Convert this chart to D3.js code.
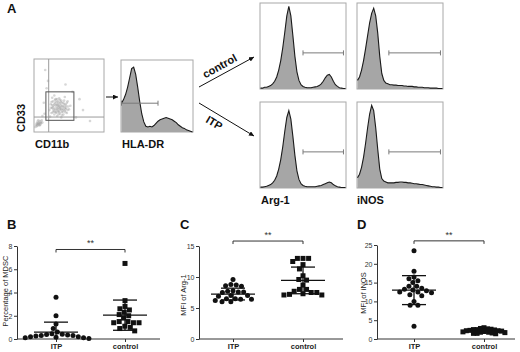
<!DOCTYPE html>
<html><head><meta charset="utf-8">
<script src="https://cdn.jsdelivr.net/npm/d3@7"></script>
<style>body{margin:0;background:#fff}svg{display:block}text{font-family:"Liberation Sans",Arial,sans-serif}</style>
</head><body><svg id="c" width="520" height="352"></svg>
<script>
// ---------------- DATA ----------------
const categories = ["ITP", "control"];

// Panel B: Percentage of MDSC
const mdscITP = [3.6, 2.0, 1.3, 0.9, 0.6, 0.45, 0.4, 0.38, 0.35, 0.3, 0.3, 0.25, 0.2, 0.2, 0.15, 0.1, 0.1, 0.05];
const mdscControl = [6.5, 3.3, 2.8, 2.6, 2.5, 2.3, 2.1, 2.0, 1.8, 1.5, 1.5, 1.4, 1.4, 1.4, 1.1, 1.0, 0.9, 0.7];
const mdscMean = [0.6, 2.05];
const mdscSD = [0.85, 1.3];
const mdscTicks = [0, 2, 4, 6, 8];

// Panel C: MFI of Arg-1
const arg1ITP = [9.6, 8.8, 8.7, 8.6, 8.5, 7.8, 7.7, 7.6, 7.6, 7.5, 7.0, 7.0, 6.9, 6.5, 6.5, 6.4, 6.4, 6.2, 6.0, 6.0];
const arg1Control = [13.0, 13.0, 13.0, 12.5, 12.0, 11.3, 10.2, 9.6, 9.5, 8.7, 8.0, 8.0, 7.7, 7.5, 7.5, 7.3, 7.2, 7.1, 7.1];
const arg1Mean = [7.25, 9.45];
const arg1SD = [0.95, 2.15];
const arg1Ticks = [0, 5, 10, 15];

// Panel D: MFI of iNOS
const inosITP = [23.5, 18.0, 16.5, 16.0, 15.5, 15.0, 14.0, 14.0, 13.5, 13.2, 13.0, 12.8, 12.5, 12.5, 12.3, 11.8, 11.5, 10.0, 9.0, 9.0, 3.4];
const inosControl = [3.0, 2.8, 2.7, 2.6, 2.5, 2.5, 2.4, 2.3, 2.2, 2.2, 2.1, 2.0, 1.9, 1.8, 1.8, 1.7, 1.6, 1.5, 1.5, 1.4];
const inosMean = [13.0, 2.1];
const inosSD = [3.85, 0.45];
const inosTicks = [0, 5, 10, 15, 20, 25];

// Panel A: flow cytometry histograms (relative counts, 0-100 of box height)
const hlaDRHist = [40,45,52,62,75,88,90,80,62,42,25,14,8,7,8,7,9,12,15,17,18,19,20,19,18,17,15,13,10,8,6,5,3,2,1,0];
const arg1HistControl = [1,1,2,2,3,4,6,9,14,22,33,48,66,85,96,85,62,38,20,10,5,3,2,1.5,1.5,1.5,2,2.5,3,4,6,9,13,16,17,14,9,5,3,1.5,1,0.5,0.5];
const inosHistControl = [10,14,22,33,47,62,77,88,94,85,65,38,18,10,7,6,5,5,4.5,4.5,4,4,4,3.5,3.5,3,3,3,2.5,2.5,2,2,2,1.5,1.5,1.5,1,1,1,1,0.5,0.5,0.5];
const arg1HistITP = [1,1,1.5,2,3,4,6,9,14,22,33,48,66,82,90,80,60,38,20,10,5,3,2,1.5,1.5,1.5,1.5,1.5,2,2.5,3,4,5,6,7,6,4,2.5,1.5,1,0.5,0.5,0.5];
const inosHistITP = [12,16,24,36,52,70,86,96,90,70,45,22,11,8,7,6,6,6,6,6.5,6.5,7,7,6.5,6.5,6,6,5.5,5,5,4.5,4,4,3.5,3,2.5,2,1.5,1.5,1,1,0.5,0.5];
// gates: [startBin, endBin, level]
const hlaDRGate = [0, 18, 40];
const arg1Gate = [21, 41, 42];
const inosGate = [15.5, 41, 42];

// CD11b (x) vs CD33 (y) dot plot, percent of axis
const cd11bCd33 = [
 [22,30],[24,38],[25,26],[26,33],[27,42],[28,29],[28,36],[29,24],[30,32],[30,40],[31,45],[31,27],[32,35],[32,30],
 [33,38],[33,22],[34,33],[34,42],[35,28],[35,36],[36,31],[36,46],[37,25],[37,39],[38,34],[38,30],[39,43],[40,27],
 [40,36],[41,32],[42,40],[42,24],[43,35],[44,29],[45,38],[46,33],[47,26],[48,42],[50,31],[26,47],[23,21],[39,20],
 [44,48],[52,36],[29,50],[31,37],[34,29],[36,35],[38,41],[41,28],[33,45],[27,34],[45,31],[43,43],[30,28],[35,24],
 [24,33],[25,41],[27,27],[29,38],[30,44],[32,26],[33,32],[34,37],[35,40],[36,27],[37,33],[38,37],[39,31],[40,40],
 [41,35],[42,30],[43,38],[44,33],[46,36],[47,40],[48,30],[49,35],[32,41],[28,31],[26,37],[37,44],[40,23],[45,27],
 [3,10],[4,12],[5,9],[5,14],[6,11],[7,13],[7,10],[8,15],[9,12],[10,14],[11,16],[4,8],[6,16],[9,10],[12,13],[2,7],[8,9],
 [5,11],[7,12],[10,12],
 [15,25],[18,60],[60,20],[20,70],[55,55],[14,40],[65,45],[45,65],[70,30],[12,22],[80,15],[16,85]
];
const dotGateX = [17, 57];
const dotGateY = [16, 55];
const dotQuadX = 21;
const dotQuadY = 20.5;

// ---------------- DRAW ----------------
const svg = d3.select("#c");
const FONT = '"Liberation Sans",Arial,sans-serif';

svg.append("defs").append("marker").attr("id","ah").attr("viewBox","0 0 6 6")
  .attr("refX",6).attr("refY",3).attr("markerWidth",5).attr("markerHeight",5)
  .attr("markerUnits","userSpaceOnUse").attr("orient","auto")
  .append("path").attr("d","M0,0L6,3L0,6Z").attr("fill","#111");

function label(x, y, t, size, opts={}) {
  const e = svg.append("text").attr("x", x).attr("y", y).text(t)
    .attr("font-size", size).attr("font-weight", opts.bold ? "bold" : "normal")
    .attr("fill", opts.fill || "#111").attr("text-anchor", opts.anchor || "start");
  if (opts.transform) e.attr("transform", opts.transform);
  return e;
}

// Panel letters
label(7, 13, "A", 13, {bold:true});
label(7, 229, "B", 13, {bold:true});
label(180, 229, "C", 13, {bold:true});
label(357, 229, "D", 13, {bold:true});

// ---- dot plot ----
const db = {x0:34, y0:59, x1:104, y1:132};
const dx = d3.scaleLinear().domain([0,100]).range([db.x0, db.x1]);
const dy = d3.scaleLinear().domain([0,100]).range([db.y1, db.y0]);
svg.append("rect").attr("x",db.x0).attr("y",db.y0).attr("width",db.x1-db.x0).attr("height",db.y1-db.y0)
  .attr("fill","#fff").attr("stroke","#a8a8a8").attr("stroke-width",1);
svg.append("g").selectAll("circle").data(cd11bCd33).join("circle")
  .attr("cx", d=>dx(d[0])).attr("cy", d=>dy(d[1])).attr("r", 1.3)
  .attr("fill", "#9a9a9a").attr("opacity", 0.4);
svg.append("line").attr("x1",dx(dotQuadX)).attr("x2",dx(dotQuadX)).attr("y1",db.y0).attr("y2",db.y1).attr("stroke","#9a9a9a");
svg.append("line").attr("x1",db.x0).attr("x2",db.x1).attr("y1",dy(dotQuadY)).attr("y2",dy(dotQuadY)).attr("stroke","#9a9a9a");
svg.append("rect").attr("x",dx(dotGateX[0])).attr("y",dy(dotGateY[1]))
  .attr("width",dx(dotGateX[1])-dx(dotGateX[0])).attr("height",dy(dotGateY[0])-dy(dotGateY[1]))
  .attr("fill","none").attr("stroke","#555").attr("stroke-width",1);
label(35, 148, "CD11b", 11, {bold:true});
label(25, 118, "CD33", 11, {bold:true, anchor:"middle", transform:"rotate(-90,25,118)"});

// ---- histograms ----
function histogram(box, data, gate) {
  const x = d3.scaleLinear().domain([0, data.length-1]).range([box.x0+0.5, box.x1-0.5]);
  const y = d3.scaleLinear().domain([0,100]).range([box.y1, box.y0]);
  svg.append("rect").attr("x",box.x0).attr("y",box.y0).attr("width",box.x1-box.x0).attr("height",box.y1-box.y0)
    .attr("fill","#fff").attr("stroke","#a8a8a8").attr("stroke-width",1);
  svg.append("path").datum(data)
    .attr("d", d3.area().x((d,i)=>x(i)).y0(box.y1).y1(d=>y(d)))
    .attr("fill","#a6a6a6");
  svg.append("path").datum(data)
    .attr("d", d3.line().x((d,i)=>x(i)).y(d=>y(d)))
    .attr("fill","none").attr("stroke","#1a1a1a").attr("stroke-width",1.1);
  const gx0 = x(gate[0]), gx1 = x(gate[1]), gy = y(gate[2]);
  const g = svg.append("g").attr("stroke","#7a7a7a").attr("stroke-width",1);
  g.append("line").attr("x1",gx0).attr("x2",gx1).attr("y1",gy).attr("y2",gy);
  g.append("line").attr("x1",gx0).attr("x2",gx0).attr("y1",gy-2.5).attr("y2",gy+2.5);
  g.append("line").attr("x1",gx1).attr("x2",gx1).attr("y1",gy-2.5).attr("y2",gy+2.5);
}
histogram({x0:121,y0:60,x1:193,y1:132}, hlaDRHist, hlaDRGate);
label(122, 148, "HLA-DR", 11, {bold:true});
histogram({x0:260,y0:3,x1:346,y1:89}, arg1HistControl, arg1Gate);
histogram({x0:357,y0:3,x1:443,y1:89}, inosHistControl, inosGate);
histogram({x0:260,y0:102,x1:346,y1:188}, arg1HistITP, arg1Gate);
histogram({x0:357,y0:102,x1:443,y1:188}, inosHistITP, inosGate);
label(261, 204, "Arg-1", 11, {bold:true});
label(357, 204, "iNOS", 11, {bold:true});

// arrows
svg.append("line").attr("x1",106).attr("y1",97).attr("x2",118).attr("y2",97).attr("stroke","#111").attr("marker-end","url(#ah)");
svg.append("line").attr("x1",199).attr("y1",87).attr("x2",254).attr("y2",57).attr("stroke","#111").attr("marker-end","url(#ah)");
svg.append("line").attr("x1",199).attr("y1",103).attr("x2",254).attr("y2",136).attr("stroke","#111").attr("marker-end","url(#ah)");
svg.append("text").attr("transform","translate(223,72) rotate(-29)").attr("text-anchor","middle").attr("y",-3)
  .attr("font-size",11).attr("font-weight","bold").attr("fill","#111").text("control");
svg.append("text").attr("transform","translate(219,115) rotate(31)").attr("text-anchor","middle").attr("y",13)
  .attr("font-size",11).attr("font-weight","bold").attr("fill","#111").text("ITP");

// ---- scatter dot plots ----
function swarm(vals, y, cx, d) {
  const placed = [];
  vals.slice().sort((a,b)=>b-a).forEach(v => {
    const py = y(v);
    const iv = [];
    placed.forEach(p => {
      const ddy = Math.abs(p.y - py);
      if (ddy < d) { const w = Math.sqrt(d*d - ddy*ddy); iv.push([p.x - w, p.x + w]); }
    });
    const cand = [cx];
    iv.forEach(([a,b]) => cand.push(a,b));
    cand.sort((a,b) => Math.abs(a-cx) - Math.abs(b-cx));
    let px = cx;
    for (const c of cand) {
      if (!iv.some(([a,b]) => c > a + 1e-6 && c < b - 1e-6)) { px = c; break; }
    }
    placed.push({x:px, y:py, v});
  });
  return placed;
}

function scatterPanel(cfg) {
  const y = d3.scaleLinear().domain([0, cfg.max]).range([cfg.yBottom, cfg.yTop]);
  const x = d3.scalePoint().domain(categories).range(cfg.cat);
  const g = svg.append("g");
  const ya = g.append("g").attr("transform",`translate(${cfg.axisX},0)`)
    .call(d3.axisLeft(y).tickValues(cfg.ticks).tickSize(3).tickSizeOuter(0).tickPadding(1.5));
  ya.select(".domain").attr("stroke","#333");
  ya.selectAll(".tick line").attr("stroke","#333");
  ya.selectAll("text").attr("font-size",7).attr("font-family",FONT).attr("fill","#333");
  g.append("line").attr("x1",cfg.axisX).attr("x2",cfg.xEnd).attr("y1",cfg.yBottom).attr("y2",cfg.yBottom).attr("stroke","#333");
  const xa = g.append("g").attr("transform",`translate(0,${cfg.yBottom})`)
    .call(d3.axisBottom(x).tickSize(3).tickSizeOuter(0).tickPadding(2));
  xa.select(".domain").remove();
  xa.selectAll(".tick line").attr("stroke","#333");
  xa.selectAll("text").attr("font-size",7.5).attr("font-weight","bold").attr("font-family",FONT).attr("fill","#222");
  g.append("text").attr("transform",`translate(${cfg.labelX},${cfg.labelY}) rotate(-90)`)
    .attr("text-anchor","middle").attr("font-size",7.5).attr("fill","#222").text(cfg.ylabel);
  const R = 2.5;
  cfg.series.forEach((vals, i) => {
    const pts = swarm(vals, y, x(categories[i]), cfg.spacing[i]);
    if (i === 0) {
      g.append("g").selectAll("circle").data(pts).join("circle")
        .attr("cx",d=>d.x).attr("cy",d=>d.y).attr("r",R).attr("fill","#111");
    } else {
      g.append("g").selectAll("rect").data(pts).join("rect")
        .attr("x",d=>d.x-R).attr("y",d=>d.y-R).attr("width",2*R).attr("height",2*R).attr("fill","#111");
    }
  });
  categories.forEach((c, i) => {
    const cx = x(c), m = cfg.mean[i], s = cfg.sd[i];
    const lo = Math.max(0, m - s), hi = m + s;
    const eg = g.append("g").attr("stroke","#111").attr("stroke-width",1.3);
    eg.append("line").attr("x1",cx-22).attr("x2",cx+22).attr("y1",y(m)).attr("y2",y(m));
    eg.append("line").attr("x1",cx).attr("x2",cx).attr("y1",y(lo)).attr("y2",y(hi));
    eg.append("line").attr("x1",cx-12).attr("x2",cx+12).attr("y1",y(hi)).attr("y2",y(hi));
    if (m - s > 0) eg.append("line").attr("x1",cx-12).attr("x2",cx+12).attr("y1",y(lo)).attr("y2",y(lo));
  });
  const by = y(cfg.bracket), x0 = x(categories[0]), x1 = x(categories[1]);
  g.append("path").attr("d",`M${x0},${by+3}V${by}H${x1}V${by+3}`).attr("fill","none").attr("stroke","#333").attr("stroke-width",1);
  g.append("text").attr("x",(x0+x1)/2).attr("y",by-3).attr("text-anchor","middle")
    .attr("font-size",9).attr("fill","#333").text("**");
}

scatterPanel({axisX:17, xEnd:160, yTop:246, yBottom:339, cat:[56,125], max:8, ticks:mdscTicks,
  series:[mdscITP, mdscControl], mean:mdscMean, sd:mdscSD, bracket:7.7, spacing:[5.4, 5.6],
  ylabel:"Percentage of MDSC", labelX:8, labelY:291});
scatterPanel({axisX:199, xEnd:343, yTop:246, yBottom:339, cat:[233,303], max:15, ticks:arg1Ticks,
  series:[arg1ITP, arg1Control], mean:arg1Mean, sd:arg1SD, bracket:15.8, spacing:[5.4, 5.6],
  ylabel:"MFI of Arg-1", labelX:186, labelY:295});
scatterPanel({axisX:377, xEnd:515, yTop:245, yBottom:339, cat:[414,484], max:25, ticks:inosTicks,
  series:[inosITP, inosControl], mean:inosMean, sd:inosSD, bracket:26.1, spacing:[5.4, 3.6],
  ylabel:"MFI of iNOS", labelX:366, labelY:293});
</script></body></html>
